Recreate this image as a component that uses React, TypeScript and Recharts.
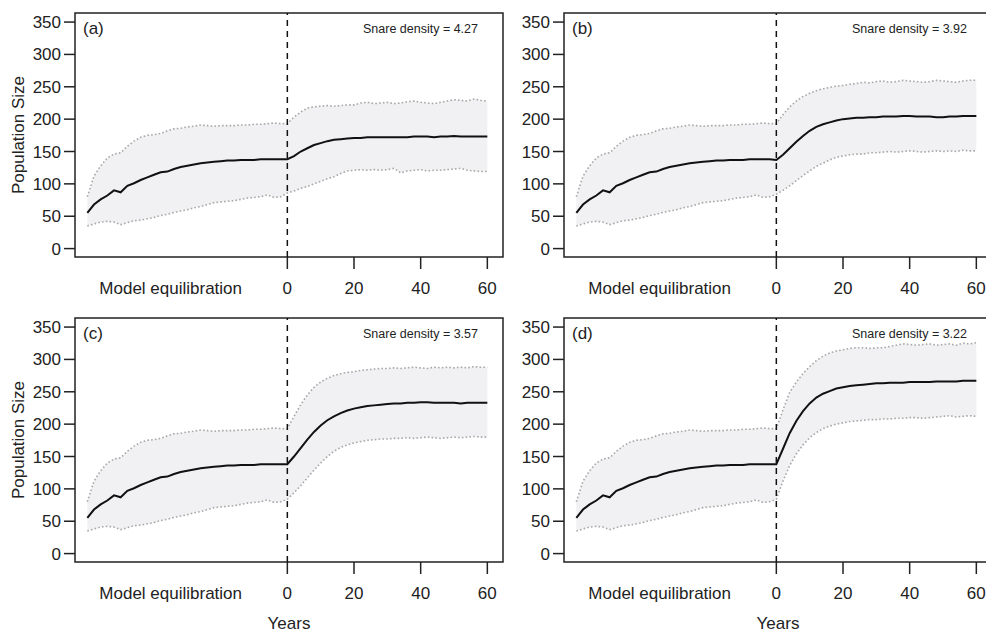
import React from 'react';
import { ComposedChart, Area, Line, XAxis, YAxis, ReferenceLine, ReferenceArea, Label } from 'recharts';

const FONT = '"Liberation Sans", Arial, Helvetica, sans-serif';
const FS = 17;
const INK = '#222';

// x positions (years); equilibration phase is drawn left of year 0
const EQ_YEARS = [-60, -58, -56, -54, -52, -50, -48, -46, -44, -42, -40, -38, -36, -34, -32, -30, -28, -26, -24, -22, -20, -18, -16, -14, -12, -10, -8, -6, -4, -2];
const RUN_YEARS = [0, 2, 4, 6, 8, 10, 12, 14, 16, 18, 20, 22, 24, 26, 28, 30, 32, 34, 36, 38, 40, 42, 44, 46, 48, 50, 52, 54, 56, 58, 60];
const X_TICKS = [-35, 0, 20, 40, 60];
const EQ_TICK = -35;
const Y_TICKS = [0, 50, 100, 150, 200, 250, 300, 350];
const X_DOMAIN: [number, number] = [-63.7, 64.7];
const Y_DOMAIN: [number, number] = [-13, 364];

// shared model equilibration phase
const EQ_MEAN = [55, 68, 76, 82, 90, 87, 97, 101, 106, 110, 114, 118, 119, 123, 126, 128, 130, 132, 133, 134, 135, 136, 136, 137, 137, 137, 138, 138, 138, 138];
const EQ_HI = [80, 112, 128, 140, 146, 148, 158, 166, 172, 175, 176, 178, 182, 185, 186, 188, 189, 191, 190, 189, 190, 190, 190, 191, 191, 192, 192, 193, 194, 193];
const EQ_LO = [35, 38, 41, 42, 41, 37, 40, 43, 44, 46, 48, 51, 53, 56, 58, 60, 63, 65, 68, 71, 72, 73, 74, 76, 78, 79, 80, 83, 79, 80];

// (a) snare density 4.27
const A_MEAN = [138, 143, 150, 155, 160, 163, 166, 168, 169, 170, 171, 171, 172, 172, 172, 172, 172, 172, 172, 173, 173, 173, 172, 173, 173, 174, 173, 173, 173, 173, 173];
const A_HI = [193, 203, 211, 217, 219, 220, 221, 220, 221, 222, 222, 225, 226, 224, 225, 226, 224, 225, 227, 228, 226, 225, 224, 226, 228, 230, 229, 228, 231, 229, 228];
const A_LO = [86, 89, 93, 96, 100, 104, 108, 111, 116, 120, 121, 122, 121, 122, 121, 122, 124, 117, 120, 121, 122, 120, 121, 121, 122, 123, 124, 121, 120, 119, 119];

// (b) snare density 3.92
const B_MEAN = [137, 145, 155, 165, 174, 182, 188, 192, 195, 198, 200, 201, 202, 202, 203, 203, 204, 204, 204, 205, 205, 204, 204, 204, 203, 203, 204, 204, 205, 205, 205];
const B_HI = [193, 207, 219, 228, 235, 240, 244, 247, 249, 251, 252, 254, 255, 257, 256, 258, 259, 257, 258, 260, 259, 258, 257, 258, 260, 259, 258, 257, 259, 260, 260];
const B_LO = [84, 90, 97, 105, 113, 120, 127, 132, 137, 141, 143, 145, 146, 146, 148, 148, 149, 150, 149, 150, 151, 150, 149, 150, 151, 150, 151, 150, 152, 151, 151];

// (c) snare density 3.57
const C_MEAN = [138, 150, 163, 176, 188, 198, 206, 212, 217, 221, 224, 226, 228, 229, 230, 231, 232, 232, 233, 233, 234, 234, 233, 233, 233, 233, 232, 233, 233, 233, 233];
const C_HI = [193, 212, 230, 245, 257, 265, 271, 275, 278, 280, 281, 283, 284, 285, 286, 286, 287, 286, 287, 288, 287, 286, 288, 287, 288, 287, 288, 287, 289, 288, 288];
const C_LO = [84, 94, 105, 117, 129, 140, 150, 158, 164, 168, 171, 173, 175, 176, 177, 177, 178, 178, 179, 178, 179, 180, 179, 178, 179, 180, 179, 180, 181, 180, 180];

// (d) snare density 3.22
const D_MEAN = [138, 162, 186, 205, 220, 232, 241, 247, 251, 255, 257, 259, 260, 261, 262, 263, 263, 264, 264, 264, 265, 265, 265, 265, 266, 266, 266, 266, 267, 267, 267];
const D_HI = [193, 222, 249, 265, 278, 289, 298, 305, 310, 313, 315, 317, 318, 318, 317, 318, 318, 320, 322, 324, 323, 322, 323, 324, 322, 323, 324, 322, 325, 324, 326];
const D_LO = [84, 112, 136, 154, 168, 179, 187, 193, 197, 200, 202, 204, 205, 206, 207, 207, 208, 208, 209, 209, 210, 210, 209, 210, 211, 212, 213, 211, 212, 213, 212];

function buildRows(mean: number[], hi: number[], lo: number[]) {
  const years = [...EQ_YEARS, ...RUN_YEARS];
  const m = [...EQ_MEAN, ...mean];
  const h = [...EQ_HI, ...hi];
  const l = [...EQ_LO, ...lo];
  return years.map((year, i) => ({ year, mean: m[i], hi: h[i], lo: l[i], band: [l[i], h[i]] }));
}

const TICK_SIZE = 12;
const TICK_MARGIN = 13;

function XTick(props: any) {
  const { x, y, payload } = props;
  const v = payload && payload.value;
  if (v === EQ_TICK) {
    return (
      <text x={x} y={y} dy="0.72em" textAnchor="middle" fill={INK} fontSize={FS} fontFamily={FONT}>
        Model equilibration
      </text>
    );
  }
  return (
    <g>
      <line x1={x} x2={x} y1={y - TICK_MARGIN - TICK_SIZE} y2={y - TICK_MARGIN} stroke={INK} strokeWidth={1.5} />
      <text x={x} y={y} dy="0.72em" textAnchor="middle" fill={INK} fontSize={FS} fontFamily={FONT}>
        {v}
      </text>
    </g>
  );
}

type PanelProps = {
  mean: number[];
  hi: number[];
  lo: number[];
  letter: string;
  density: string;
  yLabel: boolean;
  xLabel: boolean;
  left: number;
  top: number;
};

function Panel({ mean, hi, lo, letter, density, yLabel, xLabel, left, top }: PanelProps) {
  const rows = buildRows(mean, hi, lo);
  const xAxisH = xLabel ? 70 : 40;
  const height = xLabel ? 327 : 310;
  const bottom = xLabel ? 0 : 13;
  return (
    <div style={{ position: 'absolute', left, top, width: 510, height }}>
      <ComposedChart width={510} height={height} data={rows} margin={{ top: 13, right: 7, left: 0, bottom }}>
        <XAxis
          type="number"
          dataKey="year"
          domain={X_DOMAIN}
          ticks={X_TICKS}
          interval={0}
          allowDataOverflow
          axisLine={false}
          tickLine={false}
          tickSize={TICK_SIZE}
          tickMargin={TICK_MARGIN}
          tick={<XTick />}
          height={xAxisH}
        >
          {xLabel && (
            <Label
              content={(p: any) => {
                const vb = p.viewBox || {};
                return (
                  <text x={vb.x + vb.width / 2} y={vb.y + 67} textAnchor="middle" fill={INK} fontSize={FS} fontFamily={FONT}>
                    Years
                  </text>
                );
              }}
            />
          )}
        </XAxis>
        <YAxis
          type="number"
          domain={Y_DOMAIN}
          ticks={Y_TICKS}
          interval={0}
          allowDataOverflow
          width={75}
          axisLine={false}
          tickLine={{ stroke: INK, strokeWidth: 1.5 }}
          tickSize={11}
          tickMargin={3}
          tick={{ fill: INK, fontSize: FS, fontFamily: FONT }}
        >
          {yLabel && (
            <Label
              content={(p: any) => {
                const vb = p.viewBox || {};
                const cx = vb.x + 24;
                const cy = vb.y + vb.height / 2;
                return (
                  <text x={cx} y={cy} transform={`rotate(-90, ${cx}, ${cy})`} textAnchor="middle" fill={INK} fontSize={FS} fontFamily={FONT}>
                    Population Size
                  </text>
                );
              }}
            />
          )}
        </YAxis>
        <Area dataKey="band" stroke="none" fill="#f1f1f3" fillOpacity={1} isAnimationActive={false} activeDot={false} />
        <Line dataKey="hi" stroke="#a8a8a8" strokeWidth={1.6} strokeDasharray="1.6 2.2" dot={false} activeDot={false} isAnimationActive={false} />
        <Line dataKey="lo" stroke="#a8a8a8" strokeWidth={1.6} strokeDasharray="1.6 2.2" dot={false} activeDot={false} isAnimationActive={false} />
        <Line dataKey="mean" stroke="#111" strokeWidth={2} dot={false} activeDot={false} isAnimationActive={false} />
        <ReferenceLine x={0} stroke="#111" strokeWidth={1.5} strokeDasharray="6 5" ifOverflow="visible" />
        <ReferenceArea
          x1={X_DOMAIN[0]}
          x2={X_DOMAIN[1]}
          y1={Y_DOMAIN[0]}
          y2={Y_DOMAIN[1]}
          fill="none"
          fillOpacity={0}
          stroke={INK}
          strokeWidth={1.5}
          ifOverflow="visible"
        >
          <Label
            content={(p: any) => {
              const vb = p.viewBox || {};
              return (
                <g>
                  <text x={vb.x + 8} y={vb.y + 21} fill={INK} fontSize={FS} fontFamily={FONT}>
                    {letter}
                  </text>
                  <text x={vb.x + vb.width - 25} y={vb.y + 19.5} textAnchor="end" fill={INK} fontSize={12.5} fontFamily={FONT}>
                    {`Snare density = ${density}`}
                  </text>
                </g>
              );
            }}
          />
        </ReferenceArea>
      </ComposedChart>
    </div>
  );
}

export default function App() {
  return (
    <div style={{ position: 'absolute', left: 0, top: 0, width: 986, height: 632, overflow: 'hidden', background: '#fff' }}>
      <Panel mean={A_MEAN} hi={A_HI} lo={A_LO} letter="(a)" density="4.27" yLabel xLabel={false} left={0} top={0} />
      <Panel mean={B_MEAN} hi={B_HI} lo={B_LO} letter="(b)" density="3.92" yLabel={false} xLabel={false} left={489} top={0} />
      <Panel mean={C_MEAN} hi={C_HI} lo={C_LO} letter="(c)" density="3.57" yLabel xLabel left={0} top={305} />
      <Panel mean={D_MEAN} hi={D_HI} lo={D_LO} letter="(d)" density="3.22" yLabel={false} xLabel left={489} top={305} />
    </div>
  );
}
